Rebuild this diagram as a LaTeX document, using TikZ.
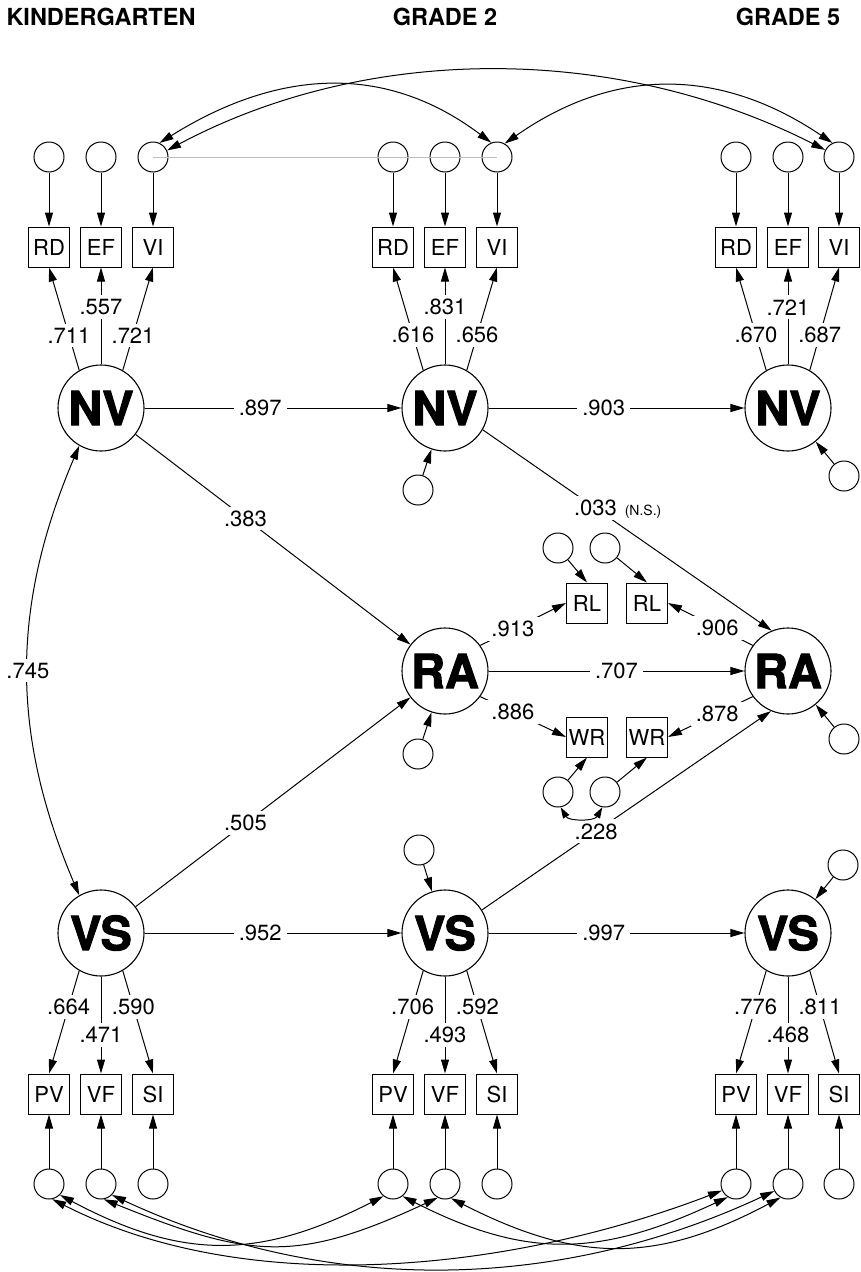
\documentclass[tikz,border=0pt]{standalone}
\usepackage{fontspec}
\setmainfont{TeX Gyre Heros}
\newfontfamily\latentfont{TeX Gyre Heros}[BoldFeatures={FakeBold=2}]
\usepackage{tikz}
\usetikzlibrary{arrows.meta,positioning}

\begin{document}
\begin{tikzpicture}[
    x=1pt, y=-1pt,
    line width=1pt,
    latent/.style={circle, draw, line width=1.1pt, minimum size=86pt, inner sep=0pt, font=\fontsize{47}{47}\latentfont\bfseries},
    err/.style={circle, draw, minimum size=30pt, inner sep=0pt},
    ind/.style={rectangle, draw, minimum width=41pt, minimum height=40pt, inner sep=0pt, font=\fontsize{22}{22}\selectfont},
    coef/.style={fill=white, inner xsep=5pt, inner ysep=4pt, font=\fontsize{22}{22}\selectfont},
    head/.style={anchor=base, font=\fontsize{23.5}{28}\selectfont\bfseries},
    arrow/.style={-{Triangle[length=14pt,width=8pt]}},
    corr/.style={{Triangle[length=14pt,width=8pt]}-{Triangle[length=14pt,width=8pt]}}
]
    \useasboundingbox (0,0) rectangle (860,1272);

    % Headings
    \node[head] (hK) at (101,25) {KINDERGARTEN};
    \node[head] (h2) at (445,25) {GRADE 2};
    \node[head] (h5) at (788,25) {GRADE 5};

    % Latent variables
    \node[latent] (nvK) at (101,408) {NV};
    \node[latent] (nv2) at (445,408) {NV};
    \node[latent] (nv5) at (788,408) {NV};
    \node[latent] (raA) at (445,671) {RA};
    \node[latent] (raB) at (788,671) {RA};
    \node[latent] (vsK) at (101,933) {VS};
    \node[latent] (vs2) at (445,933) {VS};
    \node[latent] (vs5) at (788,933) {VS};

    % NV indicators
    \node[ind] (rdK) at (49,247) {RD};
    \node[ind] (efK) at (101,247) {EF};
    \node[ind] (viK) at (153,247) {VI};
    \node[ind] (rd2) at (393,247) {RD};
    \node[ind] (ef2) at (445,247) {EF};
    \node[ind] (vi2) at (497,247) {VI};
    \node[ind] (rd5) at (736,247) {RD};
    \node[ind] (ef5) at (788,247) {EF};
    \node[ind] (vi5) at (839,247) {VI};

    \node[err] (erdK) at (49,157) {};
    \node[err] (eefK) at (101,157) {};
    \node[err] (eviK) at (153,157) {};
    \node[err] (erd2) at (393,157) {};
    \node[err] (eef2) at (445,157) {};
    \node[err] (evi2) at (497,157) {};
    \node[err] (erd5) at (736,157) {};
    \node[err] (eef5) at (788,157) {};
    \node[err] (evi5) at (839,157) {};

    % VS indicators
    \node[ind] (pvK) at (49,1094) {PV};
    \node[ind] (vfK) at (101,1094) {VF};
    \node[ind] (siK) at (153,1094) {SI};
    \node[ind] (pv2) at (393,1094) {PV};
    \node[ind] (vf2) at (445,1094) {VF};
    \node[ind] (si2) at (497,1094) {SI};
    \node[ind] (pv5) at (736,1094) {PV};
    \node[ind] (vf5) at (788,1094) {VF};
    \node[ind] (si5) at (839,1094) {SI};

    \node[err] (epvK) at (49,1184) {};
    \node[err] (evfK) at (101,1184) {};
    \node[err] (esiK) at (153,1184) {};
    \node[err] (epv2) at (393,1184) {};
    \node[err] (evf2) at (445,1184) {};
    \node[err] (esi2) at (497,1184) {};
    \node[err] (epv5) at (736,1184) {};
    \node[err] (evf5) at (788,1184) {};
    \node[err] (esi5) at (839,1184) {};

    % RA indicators
    \node[ind] (rlA) at (587,603) {RL};
    \node[ind] (rlB) at (647,603) {RL};
    \node[ind] (wrA) at (587,737) {WR};
    \node[ind] (wrB) at (647,737) {WR};
    \node[err] (erlA) at (558,548) {};
    \node[err] (erlB) at (605,548) {};
    \node[err] (ewrA) at (558,792) {};
    \node[err] (ewrB) at (605,792) {};

    % Disturbances
    \node[err] (dnv2) at (418,490) {};
    \node[err] (dnv5) at (844,476) {};
    \node[err] (draA) at (418,754) {};
    \node[err] (draB) at (844,739) {};
    \node[err] (dvs2) at (419,850) {};
    \node[err] (dvs5) at (843,865) {};

    % Error arrows
    \draw[arrow] (erdK) -- (rdK);
    \draw[arrow] (eefK) -- (efK);
    \draw[arrow] (eviK) -- (viK);
    \draw[arrow] (erd2) -- (rd2);
    \draw[arrow] (eef2) -- (ef2);
    \draw[arrow] (evi2) -- (vi2);
    \draw[arrow] (erd5) -- (rd5);
    \draw[arrow] (eef5) -- (ef5);
    \draw[arrow] (evi5) -- (vi5);
    \draw[arrow] (epvK) -- (pvK);
    \draw[arrow] (evfK) -- (vfK);
    \draw[arrow] (esiK) -- (siK);
    \draw[arrow] (epv2) -- (pv2);
    \draw[arrow] (evf2) -- (vf2);
    \draw[arrow] (esi2) -- (si2);
    \draw[arrow] (epv5) -- (pv5);
    \draw[arrow] (evf5) -- (vf5);
    \draw[arrow] (esi5) -- (si5);
    \draw[arrow] (erlA) -- (rlA.north);
    \draw[arrow] (erlB) -- (rlB.north);
    \draw[arrow] (ewrA) -- (wrA.south);
    \draw[arrow] (ewrB) -- (wrB.south);
    \draw[arrow] (dnv2) -- (nv2);
    \draw[arrow] (dnv5) -- (nv5);
    \draw[arrow] (draA) -- (raA);
    \draw[arrow] (draB) -- (raB);
    \draw[arrow] (dvs2) -- (vs2);
    \draw[arrow] (dvs5) -- (vs5);

    % Loadings NV
    \draw[arrow] (nvK.120) -- node[coef, pos=0.34] {.711} (rdK.south);
    \draw[arrow] (nvK.north) -- node[coef, pos=0.59] {.557} (efK.south);
    \draw[arrow] (nvK.60) -- node[coef, pos=0.34] {.721} (viK.south);
    \draw[arrow] (nv2.120) -- node[coef, pos=0.34] {.616} (rd2.south);
    \draw[arrow] (nv2.north) -- node[coef, pos=0.59] {.831} (ef2.south);
    \draw[arrow] (nv2.60) -- node[coef, pos=0.34] {.656} (vi2.south);
    \draw[arrow] (nv5.120) -- node[coef, pos=0.34] {.670} (rd5.south);
    \draw[arrow] (nv5.north) -- node[coef, pos=0.59] {.721} (ef5.south);
    \draw[arrow] (nv5.60) -- node[coef, pos=0.34] {.687} (vi5.south);

    % Loadings VS
    \draw[arrow] (vsK.240) -- node[coef, pos=0.35] {.664} (pvK.north);
    \draw[arrow] (vsK.south) -- node[coef, pos=0.6] {.471} (vfK.north);
    \draw[arrow] (vsK.300) -- node[coef, pos=0.35] {.590} (siK.north);
    \draw[arrow] (vs2.240) -- node[coef, pos=0.35] {.706} (pv2.north);
    \draw[arrow] (vs2.south) -- node[coef, pos=0.6] {.493} (vf2.north);
    \draw[arrow] (vs2.300) -- node[coef, pos=0.35] {.592} (si2.north);
    \draw[arrow] (vs5.240) -- node[coef, pos=0.35] {.776} (pv5.north);
    \draw[arrow] (vs5.south) -- node[coef, pos=0.6] {.468} (vf5.north);
    \draw[arrow] (vs5.300) -- node[coef, pos=0.35] {.811} (si5.north);

    % Loadings RA
    \draw[arrow] (raA.36) -- node[coef, pos=0.38] {.913} (rlA.west);
    \draw[arrow] (raB.144) -- node[coef, pos=0.42] {.906} (rlB.east);
    \draw[arrow] (raA.-36) -- node[coef, pos=0.38] {.886} (wrA.west);
    \draw[arrow] (raB.216) -- node[coef, pos=0.42] {.878} (wrB.east);

    % Structural paths
    \draw[arrow] (nvK) -- node[coef, pos=0.45] {.897} (nv2);
    \draw[arrow] (nv2) -- node[coef, pos=0.45] {.903} (nv5);
    \draw[arrow] (vsK) -- node[coef, pos=0.45] {.952} (vs2);
    \draw[arrow] (vs2) -- node[coef, pos=0.45] {.997} (vs5);
    \draw[arrow] (raA) -- node[coef, pos=0.5] {.707} (raB);
    \draw[arrow] (nvK) -- node[coef, pos=0.4] {.383} (raA);
    \draw[arrow] (vsK) -- node[coef, pos=0.4] {.505} (raA);
    \draw[arrow] (nv2.-30) -- node[coef, pos=0.39] (ns) {.033} (raB.112);
    \node[anchor=base west, inner sep=0pt, font=\fontsize{14}{14}\selectfont] (nsnote) at ([xshift=2pt]ns.base east) {(N.S.)};
    \draw[arrow] (vs2.32) -- node[coef, pos=0.395] {.228} (raB.247);

    % Correlations
    \draw[corr] (nvK.-120) to[out=247, in=113] node[coef, pos=0.5] {.745} (vsK.120);
    \draw[{Triangle[length=11pt,width=7pt]}-{Triangle[length=11pt,width=7pt]}] (ewrA.-80) to[out=-60, in=-120] (ewrB.-100);
    \draw[gray!50, line width=0.7pt] (eviK.center) -- (evi2.center);
    \draw[corr] (eviK.65) to[out=32, in=143, looseness=1.05] (evi2.112);
    \draw[corr] (eviK.25) to[out=28, in=153, looseness=0.9] (evi5.153);
    \draw[corr] (evi2.60) to[out=35, in=146, looseness=1.05] (evi5.115);
    \draw[corr] (epvK.-45) to[out=-28, in=-153, looseness=1.1] (epv2.-128);
    \draw[corr] (evfK.-80) to[out=-22, in=-155, looseness=1.2] (evf2.-118);
    \draw[corr] (epv2.-52) to[out=-27, in=-155, looseness=1.1] (epv5.-122);
    \draw[corr] (evf2.-67) to[out=-27, in=-152, looseness=1.1] (evf5.-119);
    \draw[corr] (epvK.-78) to[out=-27, in=-159, looseness=0.85] (epv5.-155);
    \draw[corr] (evfK.-45) to[out=-25, in=-155, looseness=0.92] (evf5.-153);

\end{tikzpicture}
\end{document}
